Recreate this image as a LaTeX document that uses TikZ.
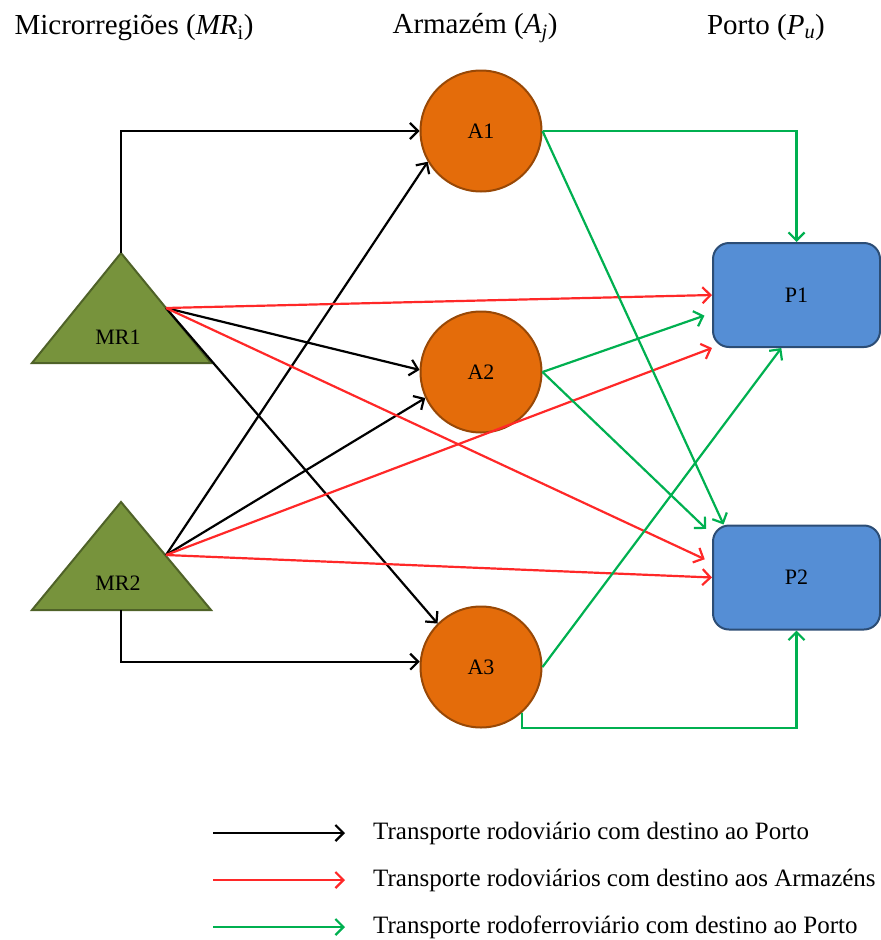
\documentclass[tikz,border=0pt]{standalone}
\usepackage{fontspec}
\setmainfont{Liberation Serif}
\usetikzlibrary{arrows.meta}
\definecolor{mrfill}{RGB}{119,147,60}
\definecolor{mrline}{RGB}{79,98,40}
\definecolor{armfill}{RGB}{228,108,10}
\definecolor{armline}{RGB}{152,72,6}
\definecolor{portfill}{RGB}{85,142,213}
\definecolor{portline}{RGB}{44,77,117}
\definecolor{rodred}{RGB}{255,40,40}
\definecolor{ferrogreen}{RGB}{0,176,80}
\begin{document}
\begin{tikzpicture}[x=1pt,y=-1pt,
  every node/.style={inner sep=0pt},
  lbl/.style={font=\fontsize{22}{26}\selectfont},
  hdr/.style={font=\fontsize{29}{34}\selectfont},
  lgd/.style={font=\fontsize{25}{30}\selectfont,anchor=west},
  mrtri/.style={draw=mrline,fill=mrfill,line width=2pt},
  arm/.style={circle,draw=armline,fill=armfill,line width=2pt,minimum size=121pt,lbl},
  port/.style={rectangle,rounded corners=16pt,draw=portline,fill=portfill,line width=2pt,
    minimum width=167pt,minimum height=104pt,lbl},
  tip/.style={-{Straight Barb[length=8pt,width=16pt]}},
  rodo/.style={black,line width=2.2pt,tip},
  rodoarm/.style={rodred,line width=2.2pt,tip},
  ferro/.style={ferrogreen,line width=2.2pt,tip}]
\useasboundingbox (0,0) rectangle (881,940);
\node[hdr] (hmr) at (134,28) {Microrregiões (\textit{MR}\textsubscript{i})};
\node[hdr] (harm) at (475,28) {Armazém (\textit{A}\textsubscript{\textit{j}})};
\node[hdr] (hport) at (766,28) {Porto (\textit{P}\textsubscript{\textit{u}})};
\draw[mrtri] (32,363) -- (121,253) -- (211,363) -- cycle;
\coordinate (mr1top) at (121,253);
\coordinate (mr1side) at (166,308);
\node[lbl] (mr1) at (118,337) {MR1};
\draw[mrtri] (32,610) -- (121,502) -- (211,610) -- cycle;
\coordinate (mr2side) at (166,555);
\coordinate (mr2base) at (121,610);
\node[lbl] (mr2) at (118,583) {MR2};
\node[arm] (a1) at (481,131) {A1};
\node[arm] (a2) at (481,372) {A2};
\node[arm] (a3) at (481,667) {A3};
\node[port] (p1) at (796.5,295) {P1};
\node[port] (p2) at (796.5,577.5) {P2};
\draw[rodo] (mr1top) |- (a1.west);
\draw[rodo] (mr2side) -- (a1.210);
\draw[rodo] (mr1side) -- (a2.178);
\draw[rodo] (mr1side) -- (a3.135);
\draw[rodo] (mr2side) -- (a2.205);
\draw[rodo] (mr2base) |- (a3.175);
\draw[rodoarm] (mr1side) -- (p1.west);
\draw[rodoarm,shorten >=8pt] (mr1side) -- (p2.170);
\draw[rodoarm] (mr2side) -- (p1.south west);
\draw[rodoarm] (mr2side) -- (p2.west);
\draw[ferro] (a1.east) -| (p1.north);
\draw[ferro] (a1.east) -- (p2.144);
\draw[ferro,shorten >=8pt] (a2.east) -- (p1.192);
\draw[ferro,shorten >=8pt] (a2.east) -- (p2.153);
\draw[ferro] (a3.east) -- (p1.254);
\draw[ferro] (a3.312) -- ++(0,15) -| (p2.south);
\coordinate (k1) at (213,833);
\coordinate (k2) at (213,880);
\coordinate (k3) at (213,927);
\node[lgd] (t1) at (373,833) {Transporte rodoviário com destino ao Porto};
\node[lgd] (t2) at (373,880) {Transporte rodoviários com destino aos Armazéns};
\node[lgd] (t3) at (373,927) {Transporte rodoferroviário com destino ao Porto};
\draw[rodo,shorten >=28pt] (k1) -- (t1.west);
\draw[rodoarm,shorten >=28pt] (k2) -- (t2.west);
\draw[ferro,shorten >=28pt] (k3) -- (t3.west);
\end{tikzpicture}
\end{document}
